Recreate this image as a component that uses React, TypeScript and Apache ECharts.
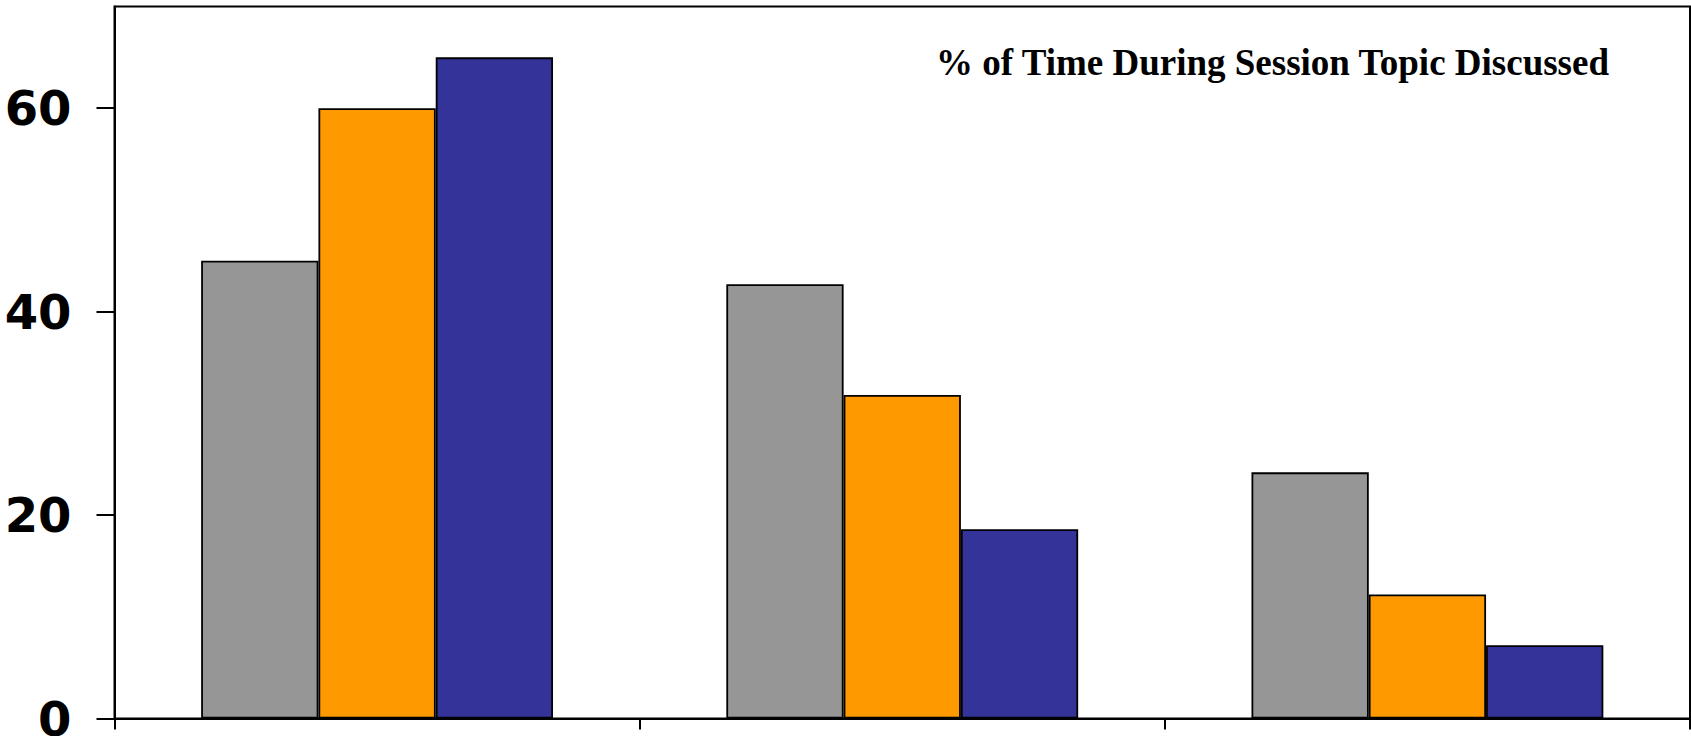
import React, { useEffect, useRef } from "react";
import * as echarts from "echarts";

// Three topic categories, three groups per category
const categories = ["Topic A", "Topic B", "Topic C"];
const seriesNames = ["Group 1", "Group 2", "Group 3"];
const grayValues = [45, 42.7, 24.2];
const orangeValues = [60, 31.8, 12.2];
const blueValues = [65, 18.6, 7.2];
const seriesColors = ["#969696", "#FF9900", "#333399"];
const yTicks = [0, 20, 40, 60];
const titleText = "% of Time During Session Topic Discussed";

export default function App() {
  const ref = useRef<HTMLDivElement>(null);

  useEffect(() => {
    document.body.style.margin = "0";
    if (!ref.current) return;
    const chart = echarts.init(ref.current, null, { renderer: "svg" });
    const values = [grayValues, orangeValues, blueValues];
    chart.setOption({
      animation: false,
      backgroundColor: "#ffffff",
      grid: {
        left: 114.5,
        right: 1,
        top: 6.5,
        bottom: 17.5,
        outerBoundsMode: "none",
        containLabel: false,
        show: true,
        borderColor: "#000000",
        borderWidth: 2,
        backgroundColor: "transparent",
      },
      xAxis: {
        type: "category",
        data: categories,
        boundaryGap: true,
        axisLine: { show: true, lineStyle: { color: "#000000", width: 2 } },
        axisTick: {
          show: true,
          length: 11,
          inside: false,
          alignWithLabel: false,
          lineStyle: { color: "#000000", width: 2 },
        },
        axisLabel: { show: false },
        splitLine: { show: false },
      },
      yAxis: {
        type: "value",
        min: 0,
        max: 70,
        interval: 20,
        axisLine: { show: true, lineStyle: { color: "#000000", width: 2 } },
        axisTick: {
          show: true,
          length: 18,
          inside: false,
          customValues: yTicks,
          lineStyle: { color: "#000000", width: 2 },
        },
        axisLabel: {
          show: true,
          customValues: yTicks,
          margin: 43,
          color: "#000000",
          fontFamily: "DejaVu Sans",
          fontWeight: "bold",
          fontSize: 48,
        },
        splitLine: { show: false },
      },
      series: values.map((data, i) => ({
        type: "bar",
        name: seriesNames[i],
        data,
        barGap: "0%",
        barCategoryGap: "33%",
        itemStyle: {
          color: seriesColors[i],
          borderColor: "#000000",
          borderWidth: 1.8,
        },
      })),
      graphic: [
        {
          type: "text",
          x: 936,
          y: 62,
          style: {
            text: titleText,
            fill: "#000000",
            font: "bold 37px 'Liberation Serif'",
            align: "left",
            verticalAlign: "middle",
          },
        },
      ],
    });
    return () => chart.dispose();
  }, []);

  return <div ref={ref} style={{ width: 1691, height: 736 }} />;
}
